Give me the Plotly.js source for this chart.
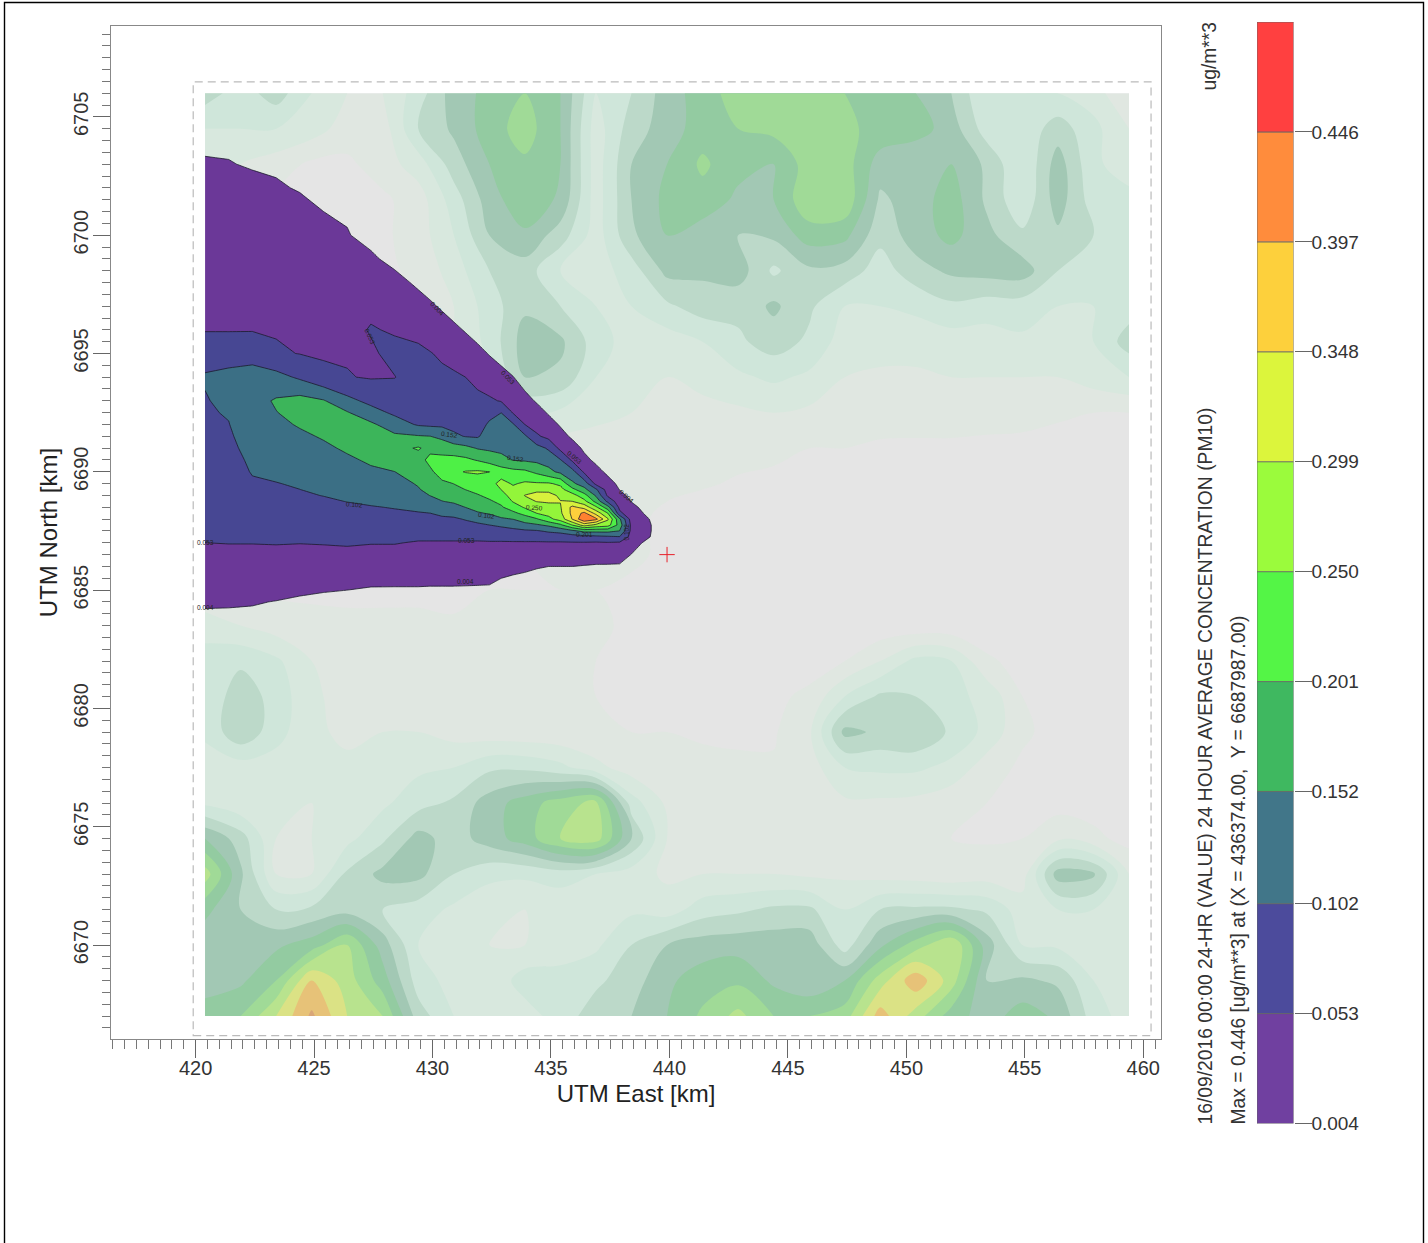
<!DOCTYPE html>
<html><head><meta charset="utf-8">
<script src="https://cdn.plot.ly/plotly-3.0.1.min.js"></script>
<style>html,body{margin:0;padding:0;background:#fff}#chart{width:1428px;height:1243px}</style>
</head><body><div id="chart"></div>
<script>
// Colour-bar class limits (ug/m**3)
const levels = [0.004,0.053,0.102,0.152,0.201,0.250,0.299,0.348,0.397,0.446,0.495];
const levelLabels = ['0.004','0.053','0.102','0.152','0.201','0.250','0.299','0.348','0.397','0.446'];
const bandColors = ['#7040a0','#4c4b9c','#417689','#3fb860','#54f546','#9bfb3c','#dcf53c','#fdd03c','#ff8c3c','#ff4040'];
const plumeColors = ['#6b3898','#474793','#3b6f85','#3cb55a','#4ef046','#93f53a','#d8f03c','#fdd03c','#ff8030','#ff4040'];

// Plume concentration grid, one list per easting, northings ascending
const plumeEast = [420.4,421.4,422.4,423.4,424.4,425.4,426.4,427.4,428.4,429.4,429.9,430.4,430.9,431.4,431.9,432.4,432.9,433.4,433.9,434.4,434.9,435.4,435.9,436.4,436.9,437.4,437.9,438.4,438.9,439.4];
const plumeNorth = [6684,6684.5,6685,6685.5,6686,6686.5,6687,6687.25,6687.5,6687.75,6688,6688.25,6688.5,6688.75,6689,6689.25,6689.5,6690,6690.5,6691,6691.5,6692,6692.5,6693,6694,6695,6696,6697,6698,6699,6700,6701,6702,6703,6704];
const plumeByEast = [
[0,.009,.018,.027,.036,.044,.053,.055,.057,.059,.062,.064,.066,.068,.07,.072,.074,.078,.083,.087,.091,.094,.098,.1,.105,.09,.05,.046,.04,.033,.026,.02,.013,.006,0],
[0,.008,.017,.027,.036,.045,.054,.056,.059,.061,.063,.066,.068,.07,.073,.075,.077,.082,.087,.091,.096,.101,.105,.11,.11,.09,.05,.046,.039,.033,.026,.019,.012,.005,0],
[0,.006,.016,.026,.035,.045,.054,.06,.064,.068,.072,.076,.08,.085,.09,.094,.097,.105,.11,.118,.125,.13,.135,.135,.11,.095,.05,.044,.037,.03,.023,.017,.01,.002,0],
[0,.003,.013,.023,.034,.044,.055,.059,.064,.069,.074,.078,.083,.088,.092,.097,.101,.11,.12,.127,.135,.142,.15,.156,.118,.058,.05,.042,.035,.028,.021,.014,.007,0,0],
[0,0,.008,.02,.032,.043,.054,.06,.066,.072,.077,.083,.088,.093,.098,.102,.106,.116,.125,.135,.144,.155,.165,.168,.095,.052,.046,.04,.033,.026,.019,.012,.002,0,0],
[0,0,.005,.019,.03,.044,.055,.061,.067,.073,.08,.085,.09,.097,.103,.109,.113,.123,.134,.144,.155,.165,.17,.155,.065,.048,.043,.036,.029,.022,.014,.004,0,0,0],
[0,0,.004,.018,.03,.044,.057,.064,.07,.077,.084,.09,.096,.103,.11,.116,.12,.132,.145,.157,.17,.175,.155,.115,.055,.05,.04,.031,.023,.014,.006,0,0,0,0],
[0,0,0,.015,.03,.04,.055,.063,.073,.083,.09,.096,.1,.108,.115,.123,.13,.145,.157,.175,.175,.16,.12,.09,.05,.047,.056,.044,.032,.01,-.007,0,0,0,0],
[0,0,0,.014,.03,.04,.055,.062,.072,.08,.09,.097,.104,.11,.12,.128,.135,.151,.165,.185,.16,.125,.094,.076,.052,.065,.049,.035,.017,-.007,0,0,0,0,0],
[0,0,0,.014,.028,.04,.05,.06,.07,.08,.09,.1,.11,.125,.14,.148,.155,.165,.18,.205,.155,.097,.09,.086,.072,.06,.044,.02,-.003,-.027,0,0,0,0,0],
[0,0,0,.012,.025,.038,.05,.06,.07,.085,.094,.102,.12,.137,.152,.165,.172,.19,.215,.186,.152,.093,.087,.08,.068,.055,.034,.01,-.013,0,0,0,0,0,0],
[0,0,0,.012,.025,.037,.05,.06,.072,.085,.095,.11,.13,.15,.165,.18,.19,.225,.215,.18,.14,.092,.083,.075,.062,.047,.023,-.001,-.024,0,0,0,0,0,0],
[0,0,0,.012,.024,.037,.05,.06,.072,.085,.096,.115,.135,.158,.175,.19,.201,.24,.215,.175,.11,.09,.08,.072,.06,.036,.012,-.012,0,0,0,0,0,0,0],
[0,0,0,.011,.024,.037,.05,.06,.077,.09,.105,.125,.152,.168,.185,.201,.215,.252,.21,.165,.1,.09,.076,.068,.053,.025,.001,-.023,0,0,0,0,0,0,0],
[0,0,0,.01,.024,.036,.05,.06,.08,.095,.115,.147,.165,.18,.197,.212,.225,.255,.197,.148,.097,.085,.072,.062,.043,.014,-.01,0,0,0,0,0,0,0,0],
[0,0,0,.009,.023,.036,.05,.063,.08,.102,.13,.155,.178,.195,.21,.22,.23,.25,.18,.143,.125,.108,.09,.06,.025,.002,-.022,0,0,0,0,0,0,0,0],
[0,0,0,.004,.018,.033,.05,.063,.085,.11,.145,.17,.195,.21,.23,.25,.265,.225,.165,.14,.125,.114,.102,.05,.015,-.008,0,0,0,0,0,0,0,0,0],
[0,0,0,0,.014,.03,.05,.065,.09,.12,.152,.19,.222,.253,.27,.26,.245,.215,.15,.135,.12,.107,.05,.03,.005,-.02,0,0,0,0,0,0,0,0,0],
[0,0,0,0,.008,.027,.05,.066,.095,.135,.175,.215,.255,.285,.3,.28,.257,.21,.145,.125,.11,.053,.03,.014,-.01,0,0,0,0,0,0,0,0,0,0],
[0,0,0,0,.005,.026,.05,.066,.098,.145,.195,.25,.275,.3,.31,.29,.255,.19,.14,.12,.06,.035,.016,.001,-.023,0,0,0,0,0,0,0,0,0,0],
[0,0,0,0,.004,.026,.05,.07,.11,.16,.235,.265,.28,.305,.315,.285,.255,.165,.13,.096,.04,.016,.001,-.011,0,0,0,0,0,0,0,0,0,0,0],
[0,0,0,0,.004,.026,.05,.07,.12,.19,.27,.29,.295,.3,.29,.265,.24,.14,.105,.04,.015,.001,-.011,0,0,0,0,0,0,0,0,0,0,0,0],
[0,0,0,0,.004,.026,.05,.08,.14,.25,.35,.36,.36,.299,.27,.215,.16,.12,.045,.018,-.001,-.011,0,0,0,0,0,0,0,0,0,0,0,0,0],
[0,0,0,0,.002,.024,.05,.085,.165,.32,.44,.41,.33,.265,.22,.165,.13,.045,.012,-.001,-.013,0,0,0,0,0,0,0,0,0,0,0,0,0,0],
[0,0,0,0,0,.023,.048,.09,.165,.285,.41,.33,.26,.185,.145,.11,.04,.014,-.002,-.014,0,0,0,0,0,0,0,0,0,0,0,0,0,0,0],
[0,0,0,0,0,.022,.05,.095,.165,.27,.305,.25,.17,.09,.045,.03,.015,-.002,-.014,0,0,0,0,0,0,0,0,0,0,0,0,0,0,0,0],
[0,0,0,0,0,.018,.047,.1,.15,.18,.16,.065,.04,.025,.012,.003,-.002,-.014,0,0,0,0,0,0,0,0,0,0,0,0,0,0,0,0,0],
[0,0,0,0,0,.003,.02,.035,.04,.04,.03,.02,.012,.003,-.003,-.009,-.014,0,0,0,0,0,0,0,0,0,0,0,0,0,0,0,0,0,0],
[0,0,0,0,0,0,.002,.015,.02,.02,.012,.004,-.002,-.008,-.014,0,0,0,0,0,0,0,0,0,0,0,0,0,0,0,0,0,0,0,0],
[0,0,0,0,0,0,-.004,-.004,-.004,-.004,-.004,-.008,-.01,-.012,0,0,0,0,0,0,0,0,0,0,0,0,0,0,0,0,0,0,0,0,0]
];

// Terrain backdrop, shade class per grid node, rows from north to south
const terrainEast = [420.4,421.9,423.4,424.9,426.4,427.9,429.4,430.9,432.4,433.9,435.4,436.9,438.4,439.9,441.4,442.9,444.4,445.9,447.4,448.9,450.4,451.9,453.4,454.9,456.4,457.9,459.4];
const terrainNorth = [6706,6704.5,6703,6701.5,6700,6698.5,6697,6695.5,6694,6692.5,6691,6689.5,6688,6686.5,6685,6683.5,6682,6680.5,6679,6677.5,6676,6674.5,6673,6671.5,6670,6668.5,6667];
const terrainShade = [
[4.5,3.5,4.5,3,2,2,3.5,5.5,6.3,7,6,3,4,5.5,6.5,7.5,7,7.5,7,7,6,5,3,3,3,2.5,1],
[3,3,3,2.5,1.5,1.5,4,5.2,6.5,7.5,6,2.5,4.5,5.5,6.5,7,7.3,7.5,7.2,6.7,6.5,5.5,3.5,3.3,4.5,3.3,2],
[2.5,2,1.5,.8,.8,1.5,2.5,4.5,6,6.8,6,2.5,5,6,7.2,6.3,6,7.5,7.5,5.5,5,6,4.8,3,5.5,3.2,2.5],
[2,1.5,.8,.8,.8,.8,1.5,3.5,5.5,6.8,5.8,2.5,5,6.3,6.6,5.8,6,7.8,7.8,4.8,5.5,6.5,4.8,3.2,5.5,3.5,3.3],
[1,.8,.8,.8,.8,.8,1.5,3,5,5.8,4.5,2.5,4.8,6,5.5,5,5.2,6.5,6.3,4.3,5.5,6.3,5.3,4.2,4.8,4,4],
[.8,.8,.8,.8,.8,.8,1.2,2.5,4,4.5,3,2.5,3.5,5.3,5.2,5.5,3.8,4.8,4.6,3.5,4.6,5.2,5.4,5.5,4,4,3.8],
[.8,.8,.8,.8,.8,.8,.8,2,3.5,4.8,4,3,3,3.8,4.5,4.3,5.2,4.2,3,3,3.2,3.8,3.5,3.5,3,3,3.5],
[.8,.8,.8,.8,.8,.8,.8,2,3.3,5.5,5.2,3.5,2.5,2.5,3,3.8,4.5,3.8,2.5,2.5,2.5,2.5,2.5,2.8,2.8,3,4.5],
[.8,.8,.8,.8,.8,.8,.8,1.5,2.8,5,4.8,3,2.2,2,2.2,2.8,3.2,2.8,2,1.8,1.8,2,2,2,2,2.5,3],
[.8,.8,.8,.8,.8,.8,.8,1,2.3,3,2.8,2.3,2,1.8,1.8,1.8,2,1.8,1.5,1.3,1.5,1.5,1.5,1.5,1.2,1,1],
[.8,.8,.8,.8,.8,.8,.8,1,1.5,1.8,1.5,1.5,1.5,1.5,1.5,1.3,1.2,1,1,.9,.8,.8,.7,.6,.5,.4,.3],
[.8,.8,.8,.8,.8,.8,.8,1,1,1.5,1.5,1.5,1.3,1.2,1.1,.9,.8,.6,.5,.5,.5,.5,.4,.4,.3,.3,.3],
[.8,.8,.8,.8,.8,.8,.8,1,1,1,1.2,1.2,1.2,.8,.5,.5,.4,.3,.3,.3,.3,.3,.3,.3,.3,.3,.3],
[.8,.8,.8,.8,.8,.8,.8,1,1,1,1.2,1.2,1.2,.8,.5,.3,.3,.3,.3,.3,.3,.3,.3,.3,.3,.3,.3],
[1.2,.8,.8,.8,.8,.8,.8,.8,1,1,1,1,.8,.5,.4,.3,.3,.3,.3,.3,.3,.3,.3,.3,.3,.3,.3],
[2.5,2,1.5,1.3,1.2,1.2,1.2,1.1,1.1,1.1,1.1,1.1,.9,.6,.4,.3,.3,.3,.3,.3,.3,.3,.3,.3,.3,.3,.3],
[3.5,3.8,3.2,2,1.5,1.3,1.3,1.2,1.2,1.1,1.1,1,.8,.6,.4,.4,.4,.6,1,2,3.3,3,1.2,.6,.4,.3,.3],
[3.2,4.6,3.6,2.2,1.6,1.5,1.4,1.2,1.2,1.1,1.1,1,.9,.8,.8,.8,.8,1.2,3,4.2,4,3.3,2.7,1,.5,.3,.3],
[3.2,4.8,3.4,2.2,1.8,2,2,1.6,1.4,1.3,1.2,1.1,1,1,.9,.9,.9,1.8,5.3,4.8,5,3.8,2.7,1.2,.6,.3,.3],
[2.5,2.5,2.5,2.2,2.2,2.4,2.8,3,3.8,3.8,3.3,2.3,1.5,1.3,1.2,1.1,1.1,1.5,3,3.2,3.2,2.7,1.5,.8,.6,.4,.3],
[2.8,2.2,2.2,2,2.2,2.8,3.6,4.2,5.5,6.5,7.5,8.3,3.5,1.8,1.5,1.5,1.5,1.5,1.8,1.8,1.7,1.3,1,.8,.6,.5,.4],
[6,4.5,2,2,2.7,3.8,5.4,4.5,5.5,6.5,8,8.5,5,2,1.6,1.5,1.6,1.6,1.6,1.4,1.2,1,.9,1,1.8,1.3,.6],
[8.5,5.2,2,2,4.2,5.3,5.3,4,3.3,3.2,3.5,3,2.5,1.8,2,2,2,1.8,1.8,1.6,1.5,1.3,1.5,1.5,5.5,5.2,2],
[6.3,5,4,4.2,4.6,4,3.5,2.8,2.2,2,2.2,2.5,2.8,2.5,3.5,3.8,4.2,4.2,3,4,4.2,4.2,3.8,2.5,3,3,2],
[5.3,5.2,5.8,6.5,8,5.5,3,2.3,2,2,2.2,2.8,4,5,5.5,5.6,5.6,5.6,3.5,5.8,7.5,9,5.5,3,2.8,2.5,2],
[5.5,5.8,7,10,8.5,6.5,3.5,2.6,2.2,3.5,3.6,3.8,4.5,5.8,6.5,6.8,5.8,5.2,6,8.5,10.7,8.5,5,5.2,4.8,3,2.5],
[6.5,7,9,11.2,9,8,4.5,3,2.5,2.5,3.5,4.5,5,6,7.2,8.3,7,7,7.5,10.5,8.5,6.5,5.5,6.5,5.8,3.5,2.5]
];
const terrainColors = ['#e5e5e5','#e0e7e1','#d8e8de','#cfe6da','#bcd9c9','#a2c8b4','#93cba1','#a0da97','#b8e38e','#dbe285','#e7c278','#d9a678'];

// Contour value labels on the plume
const labelEast  = [420.4,420.4,431.45,431.4,426.7,430.7,433.5,432.3,434.3,436.4,436.0,438.2,430.2,427.35,438.2,433.2];
const labelNorth = [6684.26,6687.0,6687.1,6685.35,6688.6,6691.57,6690.55,6688.14,6688.5,6687.34,6690.6,6688.95,6696.9,6695.7,6687.47,6694.0];
const labelText  = ['0.004','0.053','0.053','0.004','0.102','0.152','0.152','0.102','0.250','0.201','0.053','0.004','0.004','0.053','0.102','0.053'];
const labelAngle = [0,0,0,0,5,8,8,8,5,0,40,40,45,65,-90,45];

const sourceEast = [439.9], sourceNorth = [6686.5];
const modelBoxEast = [419.9,460.33], modelBoxNorth = [6666.17,6706.48];

const W = 1428, H = 1243, FONT = '"Liberation Sans", Arial, sans-serif';
const stops = (cols) => cols.map((c,i)=>[i/(cols.length-1),c]);

const data = [
 {type:'contour',x:terrainEast,y:terrainNorth,z:terrainShade,autocontour:false,
  contours:{start:1,end:11,size:1,coloring:'fill',showlines:false},
  colorscale:stops(terrainColors),showscale:false,line:{width:0,smoothing:1},hoverinfo:'skip',xaxis:'x',yaxis:'y'},
 {type:'contour',x:plumeEast,y:plumeNorth,z:plumeByEast,transpose:true,autocontour:false,
  contours:{start:0.004,end:0.446,size:0.0491,coloring:'fill',showlines:true},
  colorscale:stops(['rgba(0,0,0,0)'].concat(plumeColors)),showscale:false,
  line:{width:0.8,color:'#1c1c2c',smoothing:0},hoverinfo:'skip',xaxis:'x',yaxis:'y'},
 {type:'scatter',mode:'markers',x:sourceEast,y:sourceNorth,
  marker:{symbol:'cross-thin',size:11,line:{width:1,color:'#e8202a'},color:'#e8202a'},hoverinfo:'skip',xaxis:'x',yaxis:'y'},
 {type:'bar',x:bandColors.map(()=>0),base:levels.slice(0,-1),y:levels.slice(1).map((v,i)=>v-levels[i]),width:1,
  marker:{color:bandColors,line:{color:'#666',width:0.8}},hoverinfo:'skip',xaxis:'x2',yaxis:'y2'}
];

const layout = {
 width:W,height:H,margin:{l:0,r:0,t:0,b:0,pad:0},paper_bgcolor:'#fff',plot_bgcolor:'#fff',
 showlegend:false,barmode:'overlay',font:{family:FONT,color:'#333'},
 xaxis:{domain:[111/W,1161/W],range:[416.43,460.75],tick0:420,dtick:5,ticks:'outside',ticklen:18,tickcolor:'#666',
  ticklabelstandoff:-7,tickfont:{size:20,color:'#333'},showgrid:false,zeroline:false,showline:true,linecolor:'#888',linewidth:1.4,mirror:true,
  minor:{tick0:420,dtick:0.5,ticks:'outside',ticklen:9,tickcolor:'#777',showgrid:false},
  title:{text:'UTM East [km]',font:{size:24,color:'#222'},standoff:6}},
 yaxis:{domain:[1-1039/H,1-26/H],range:[6666.03,6708.84],tick0:6705,dtick:5,ticks:'outside',ticklen:17,tickcolor:'#666',
  ticklabelstandoff:-3,tickangle:-90,tickfont:{size:20,color:'#333'},showgrid:false,zeroline:false,showline:true,linecolor:'#888',linewidth:1.4,mirror:true,
  tickformat:'d',minor:{tick0:6705,dtick:0.5,ticks:'outside',ticklen:8,tickcolor:'#777',showgrid:false},
  title:{text:'UTM North [km]',font:{size:24,color:'#222'},standoff:5}},
 xaxis2:{domain:[1257/W,1293.6/W],range:[-0.5,0.5],visible:false,anchor:'y2'},
 yaxis2:{domain:[1-1123.5/H,1-22/H],range:[0.004,0.495],anchor:'x2',side:'right',tickvals:levels.slice(0,-1),ticktext:levelLabels,
  ticks:'outside',ticklen:17,tickcolor:'#666',ticklabelstandoff:-4,tickfont:{size:19,color:'#333'},showgrid:false,zeroline:false,showline:false},
 shapes:[
  {type:'rect',xref:'paper',yref:'paper',x0:4.5/W,x1:1423.5/W,y0:-0.01,y1:1-2.5/H,line:{color:'#000',width:1.4},layer:'below'},
  {type:'rect',xref:'x',yref:'y',x0:modelBoxEast[0],x1:modelBoxEast[1],y0:modelBoxNorth[0],y1:modelBoxNorth[1],
   line:{color:'#bbb',width:1.2,dash:'8px,5px'},layer:'below'}
 ],
 annotations:[
  {xref:'paper',yref:'paper',x:1209/W,y:1-20/H,yanchor:'top',xanchor:'center',text:'ug/m**3',textangle:-90,showarrow:false,font:{size:19.3,color:'#333'}},
  {xref:'paper',yref:'paper',x:1205/W,y:1-1127/H,yanchor:'bottom',xanchor:'center',text:'16/09/2016 00:00 24-HR (VALUE) 24 HOUR AVERAGE CONCENTRATION (PM10)',textangle:-90,showarrow:false,font:{size:19.3,color:'#333'}},
  {xref:'paper',yref:'paper',x:1238/W,y:1-1127/H,yanchor:'bottom',xanchor:'center',text:'Max = 0.446 [ug/m**3] at (X = 436374.00,  Y = 6687987.00)',textangle:-90,showarrow:false,font:{size:19.3,color:'#333'}}
 ].concat(labelText.map((t,i)=>({xref:'x',yref:'y',x:labelEast[i],y:labelNorth[i],text:t,textangle:labelAngle[i],showarrow:false,
    font:{size:6.5,color:'#222'}})))
};
Plotly.newPlot('chart',data,layout,{staticPlot:true,displayModeBar:false});
</script></body></html>
